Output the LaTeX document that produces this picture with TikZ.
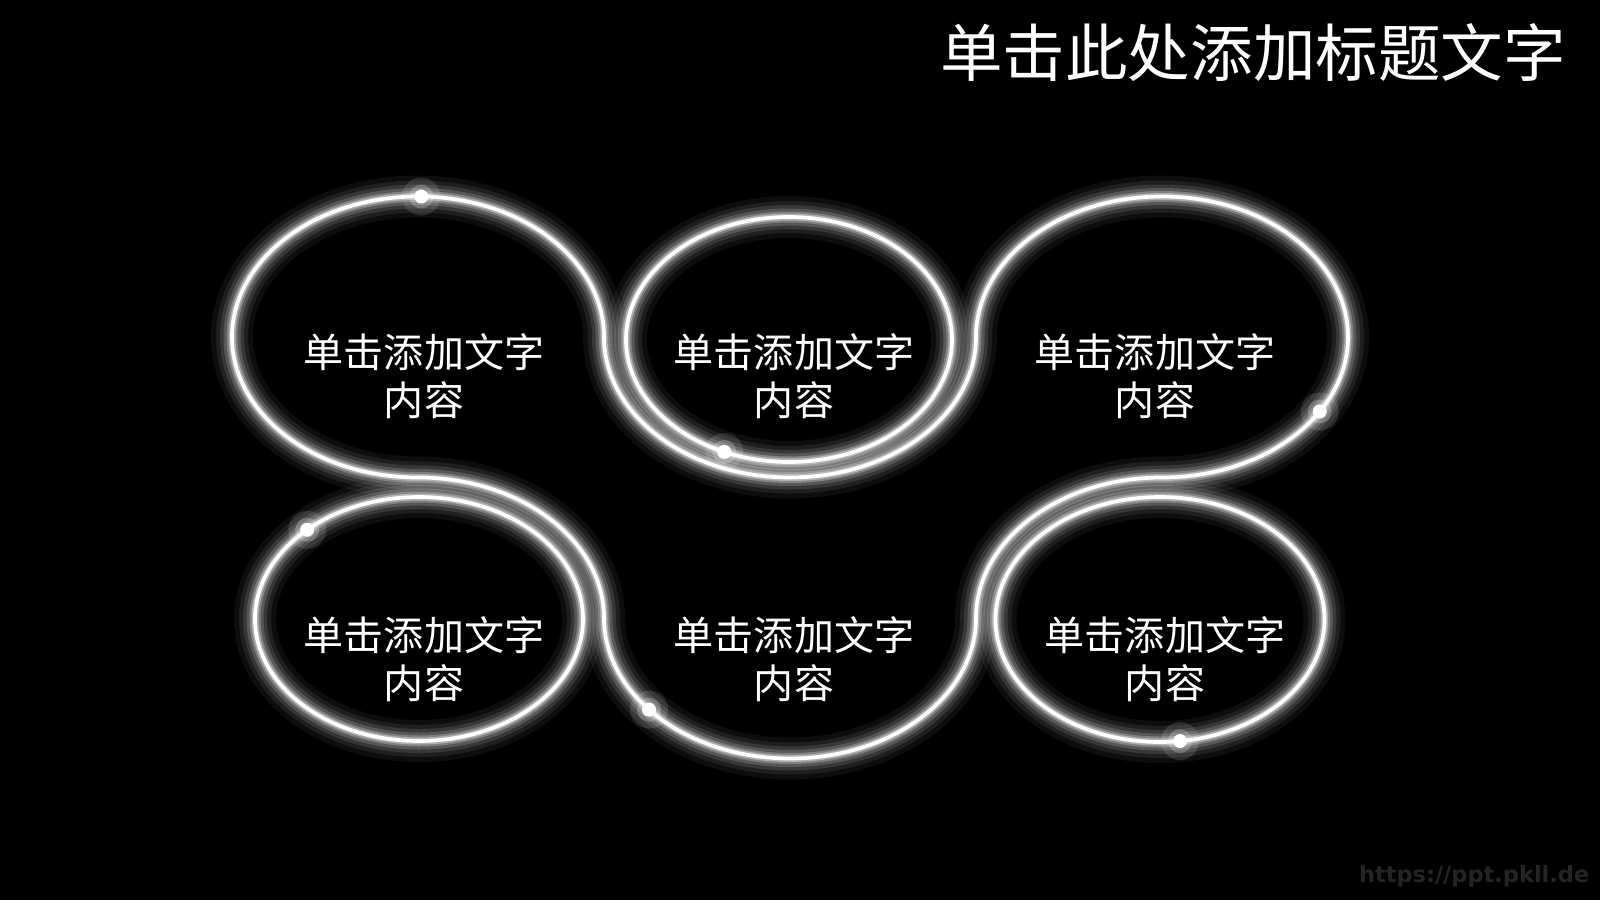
\documentclass[tikz,border=0pt]{standalone}
\usepackage{fontspec}
\usetikzlibrary{calc}
\newfontfamily\cjk{Noto Sans CJK SC}
\newfontfamily\wmfont{DejaVu Sans}
\newcommand{\glowstroke}[1]{%
  \draw[white,opacity=0.05,line width=0.42cm] #1;
  \draw[white,opacity=0.08,line width=0.32cm] #1;
  \draw[white,opacity=0.11,line width=0.24cm] #1;
  \draw[white,opacity=0.16,line width=0.17cm] #1;
  \draw[white,opacity=0.24,line width=0.11cm] #1;
  \draw[white,opacity=0.38,line width=0.07cm] #1;
  \draw[white,line width=0.037cm] #1;}
\newcommand{\glowdot}[1]{%
  \fill[white,opacity=0.12] #1 circle (0.19cm);
  \fill[white,opacity=0.22] #1 circle (0.12cm);
  \fill[white] #1 circle (0.07cm);}
\begin{document}
\begin{tikzpicture}[
  bodytxt/.style={text=white,font=\cjk\fontsize{11.4pt}{13.7pt}\selectfont,align=center,inner sep=0pt},
  titletxt/.style={text=white,font=\cjk\fontsize{17.8pt}{20pt}\selectfont,inner sep=0pt},
  wmtxt/.style={text=white!14!black,font=\wmfont\bfseries\fontsize{6.4pt}{8pt}\selectfont,inner sep=0pt}]
\fill[black] (0,0) rectangle (16,9);
\useasboundingbox (0,0) rectangle (16,9);
% snake loop
\glowstroke{(6.04,5.63) arc[start angle=0,end angle=270,x radius=1.86cm,y radius=1.405cm]
  arc[start angle=90,end angle=0,x radius=1.86cm,y radius=1.405cm]
  arc[start angle=180,end angle=360,x radius=1.86cm,y radius=1.405cm]
  arc[start angle=180,end angle=90,x radius=1.86cm,y radius=1.405cm]
  arc[start angle=270,end angle=540,x radius=1.86cm,y radius=1.405cm]
  arc[start angle=0,end angle=-180,x radius=1.86cm,y radius=1.405cm] -- cycle}
% inner ellipses
\glowstroke{(7.89,5.605) ellipse [x radius=1.63cm,y radius=1.225cm]}
\glowstroke{(4.19,2.81) ellipse [x radius=1.64cm,y radius=1.22cm]}
\glowstroke{(11.60,2.805) ellipse [x radius=1.645cm,y radius=1.225cm]}
% dots
\glowdot{($(4.18,5.63)+(89:1.86cm and 1.405cm)$)}
\glowdot{($(7.89,5.605)+(246.6:1.63cm and 1.225cm)$)}
\glowdot{($(11.62,5.63)+(-32:1.86cm and 1.405cm)$)}
\glowdot{($(4.19,2.81)+(133:1.64cm and 1.22cm)$)}
\glowdot{($(7.90,2.82)+(220.7:1.86cm and 1.405cm)$)}
\glowdot{($(11.60,2.805)+(277:1.645cm and 1.225cm)$)}
% texts
\node[titletxt] (title) at (12.53,8.47) {单击此处添加标题文字};
\node[bodytxt] (t1) at (4.24,5.24) {单击添加文字\\内容};
\node[bodytxt] (t2) at (7.94,5.24) {单击添加文字\\内容};
\node[bodytxt] (t3) at (11.55,5.24) {单击添加文字\\内容};
\node[bodytxt] (t4) at (4.24,2.405) {单击添加文字\\内容};
\node[bodytxt] (t5) at (7.94,2.405) {单击添加文字\\内容};
\node[bodytxt] (t6) at (11.65,2.405) {单击添加文字\\内容};
\node[wmtxt,anchor=east] (wm) at (15.90,0.24) {https://ppt.pkll.de};
\end{tikzpicture}
\end{document}
